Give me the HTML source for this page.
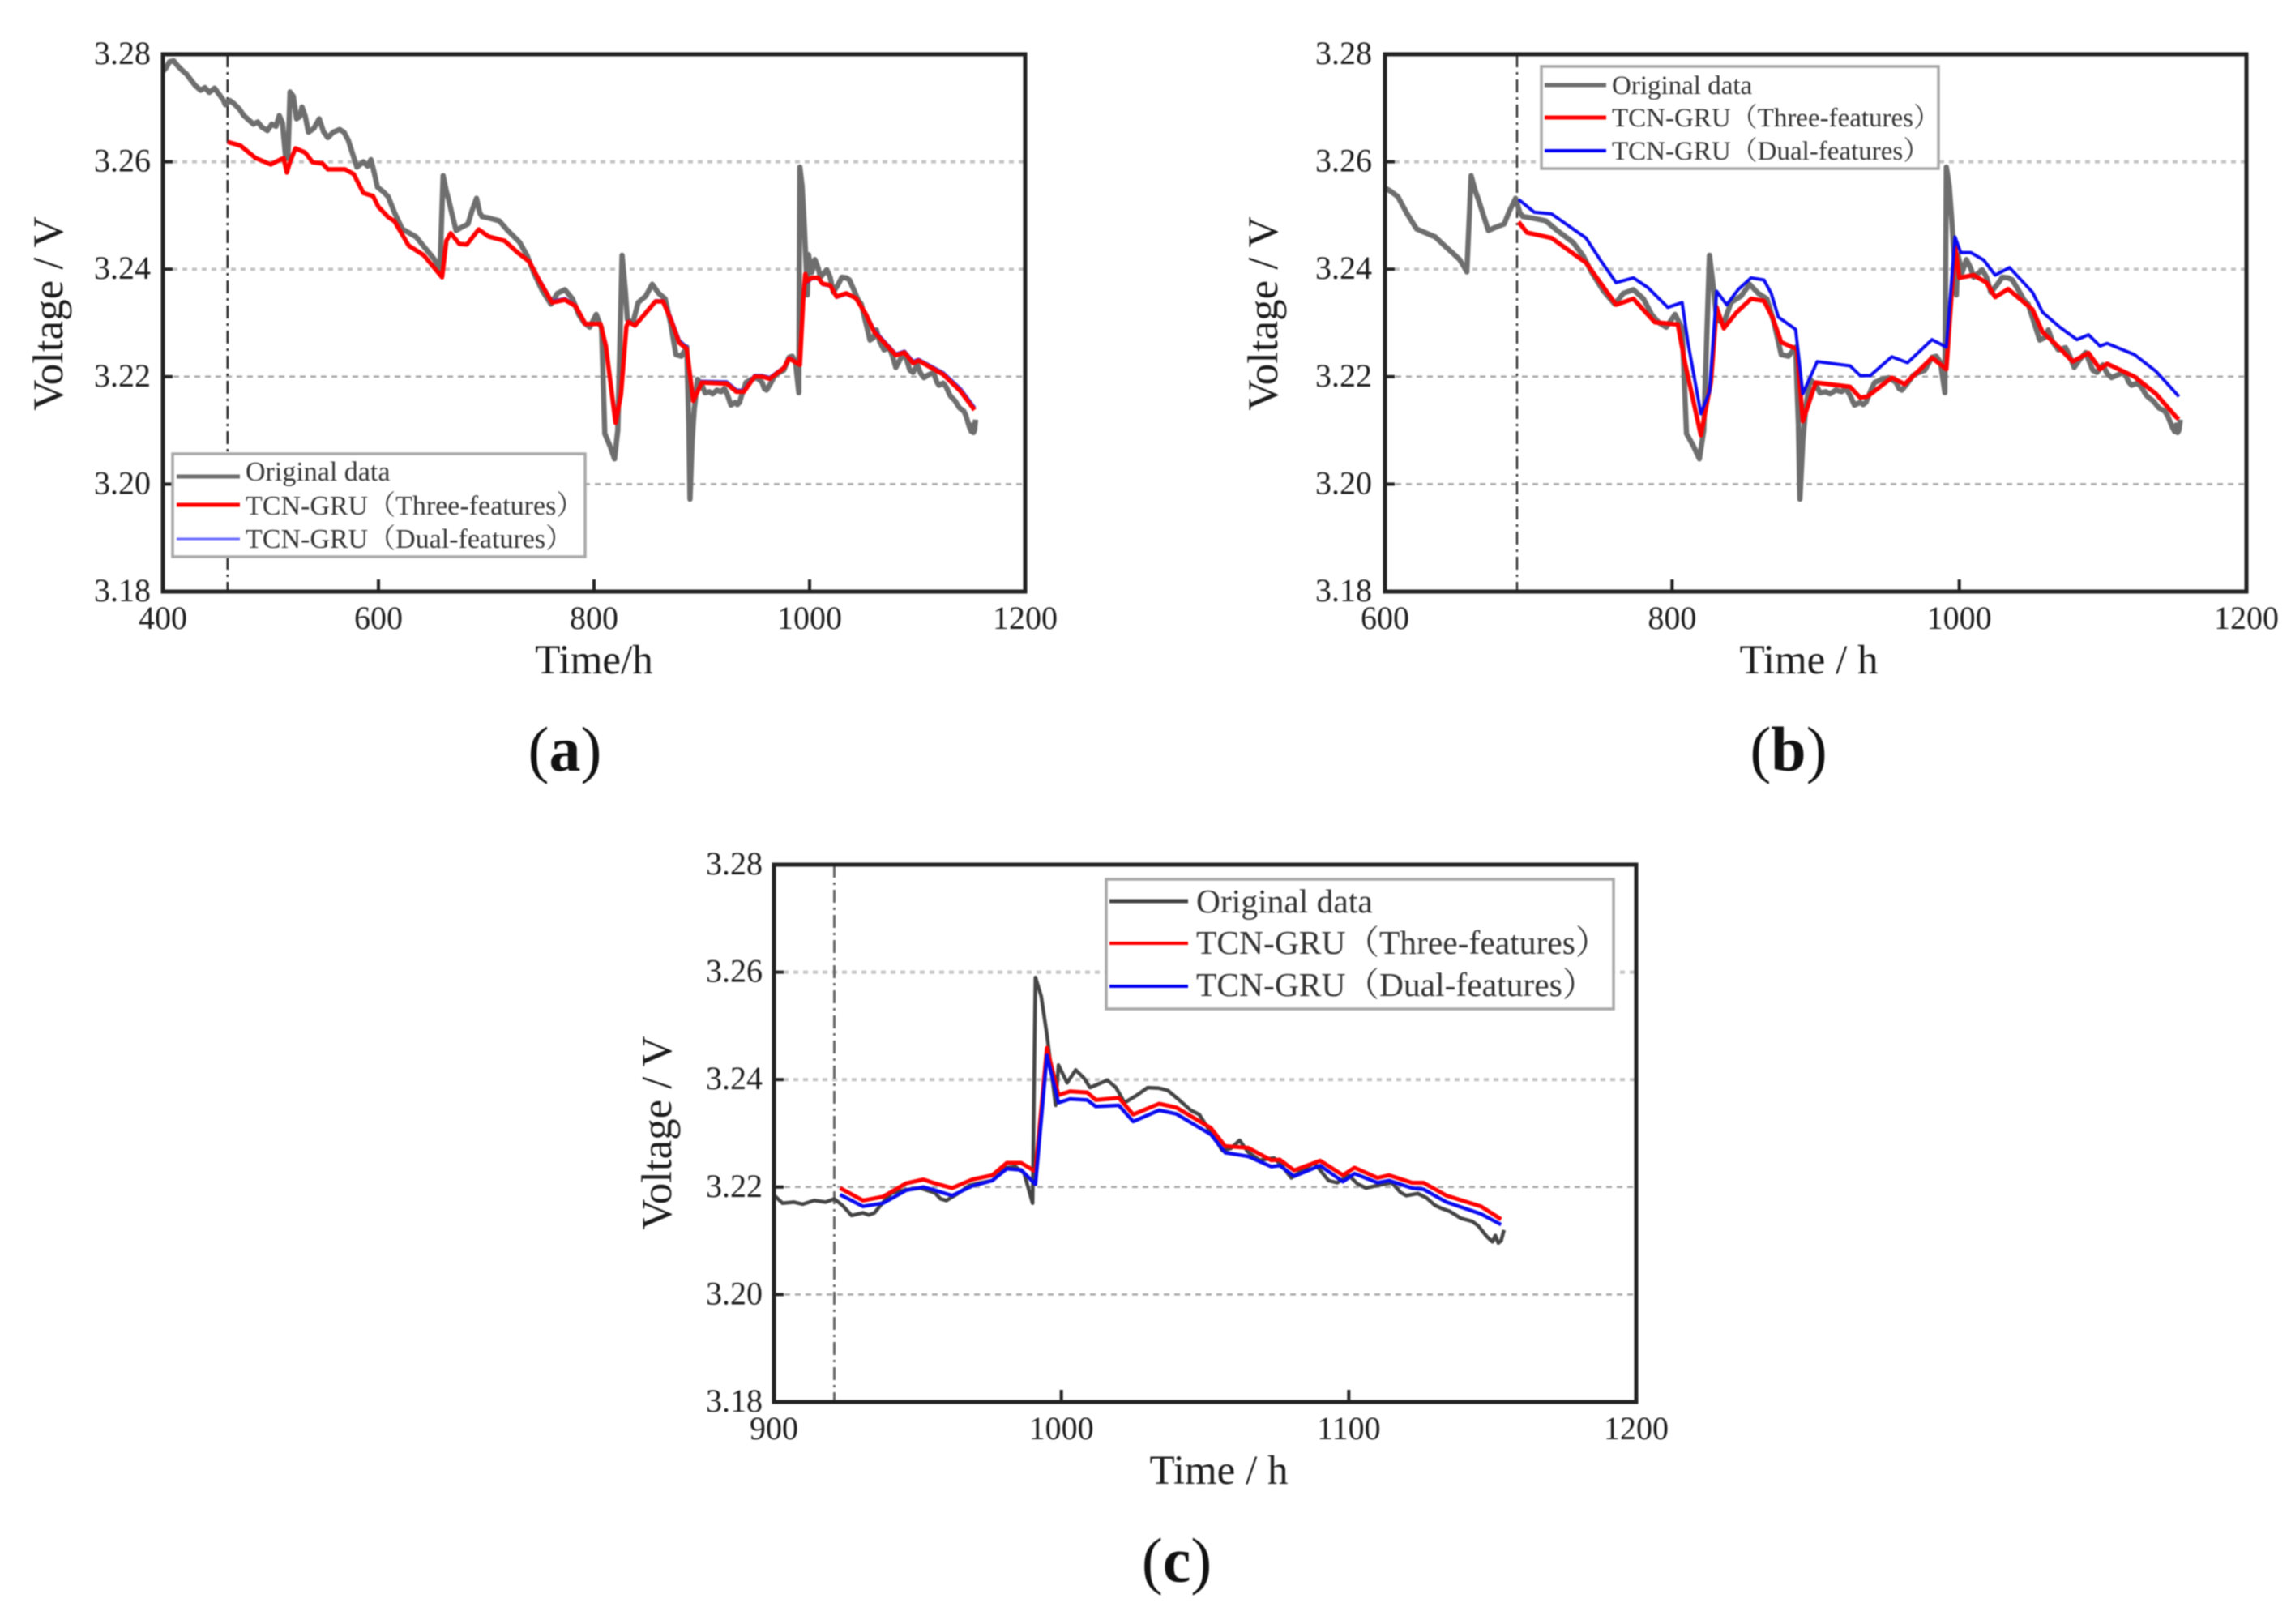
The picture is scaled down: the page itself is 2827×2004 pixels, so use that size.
<!DOCTYPE html>
<html lang="en">
<head>
<meta charset="utf-8">
<title>Voltage prediction comparison</title>
<style>
html,body{margin:0;padding:0;background:#fff;width:2827px;height:2004px;overflow:hidden}
svg{display:block;filter:blur(0.9px)}
text{font-family:"Liberation Serif","Noto Serif CJK SC",serif;fill:#1c1c1c}
.tick{font-size:40px}
.title{font-size:51px}
.ytitle{font-size:53px}
.cap{font-size:78px;fill:#111}
.leg{font-size:34px;fill:#333}
.legb{font-size:33px;fill:#333}
.legc{font-size:41.5px;fill:#333}
.box{fill:#fff;stroke:#a8a8a8;stroke-width:3.5}
.frame{fill:none;stroke:#222;stroke-width:5}
</style>
</head>
<body>
<svg id="figure" xmlns="http://www.w3.org/2000/svg" width="2827" height="2004" viewBox="0 0 2827 2004">
  <rect width="2827" height="2004" fill="#fff"/>
  <defs>
    <clipPath id="clip-a"><rect x="201" y="67" width="1064" height="663"/></clipPath>
    <clipPath id="clip-b"><rect x="1709" y="67" width="1063" height="663"/></clipPath>
    <clipPath id="clip-c"><rect x="955" y="1067" width="1064" height="663"/></clipPath>
  </defs>
  <g id="panel-a">
    <g id="plot-a"></g>
    <rect class="frame" x="201" y="67" width="1064" height="663"/>
    <text class="title" x="733" y="831" text-anchor="middle">Time/h</text>
    <text class="ytitle" transform="translate(77 387) rotate(-90)" text-anchor="middle">Voltage / V</text>
    <g>
      <rect class="box" x="213" y="560" width="509" height="127"/>
      <line x1="218" x2="296" y1="588" y2="588" stroke="#6e6e6e" stroke-width="5"/>
      <line x1="218" x2="296" y1="623" y2="623" stroke="#f00" stroke-width="5"/>
      <line x1="218" x2="296" y1="665" y2="665" stroke="#6a6aff" stroke-width="3"/>
      <text class="leg" x="303" y="593">Original data</text>
      <text class="leg" x="303" y="635">TCN-GRU（Three-features）</text>
      <text class="leg" x="303" y="676">TCN-GRU（Dual-features）</text>
    </g>
    <text class="cap" x="697" y="951" text-anchor="middle">(<tspan font-weight="bold">a</tspan>)</text>
  </g>
  <g id="panel-b">
    <g id="plot-b"></g>
    <rect class="frame" x="1709" y="67" width="1063" height="663"/>
    <text class="title" x="2232" y="831" text-anchor="middle">Time / h</text>
    <text class="ytitle" transform="translate(1576 387) rotate(-90)" text-anchor="middle">Voltage / V</text>
    <g>
      <rect class="box" x="1902" y="82" width="490" height="126"/>
      <line x1="1906" x2="1982" y1="105" y2="105" stroke="#6e6e6e" stroke-width="5"/>
      <line x1="1906" x2="1982" y1="145" y2="145" stroke="#f00" stroke-width="5"/>
      <line x1="1906" x2="1982" y1="186" y2="186" stroke="#0000f0" stroke-width="4"/>
      <text class="legb" x="1989" y="116">Original data</text>
      <text class="legb" x="1989" y="156">TCN-GRU（Three-features）</text>
      <text class="legb" x="1989" y="197">TCN-GRU（Dual-features）</text>
    </g>
    <text class="cap" x="2207" y="951" text-anchor="middle">(<tspan font-weight="bold">b</tspan>)</text>
  </g>
  <g id="panel-c">
    <g id="plot-c"></g>
    <rect class="frame" x="955" y="1067" width="1064" height="663"/>
    <text class="title" x="1504" y="1831" text-anchor="middle">Time / h</text>
    <text class="ytitle" transform="translate(828 1398) rotate(-90)" text-anchor="middle">Voltage / V</text>
    <g>
      <rect class="box" x="1365" y="1085" width="626" height="160"/>
      <line x1="1369" x2="1466" y1="1112" y2="1112" stroke="#444" stroke-width="5"/>
      <line x1="1369" x2="1466" y1="1164" y2="1164" stroke="#f00" stroke-width="4"/>
      <line x1="1369" x2="1466" y1="1217" y2="1217" stroke="#0000f0" stroke-width="4"/>
      <text class="legc" x="1476" y="1126">Original data</text>
      <text class="legc" x="1476" y="1177">TCN-GRU（Three-features）</text>
      <text class="legc" x="1476" y="1229">TCN-GRU（Dual-features）</text>
    </g>
    <text class="cap" x="1452" y="1952" text-anchor="middle">(<tspan font-weight="bold">c</tspan>)</text>
  </g>
</svg>
<script>
// ---- shared measured series ----
const originalTimes = [
400,403,406,410,414,418,422,426,430,435,
439,443,448,452,456,458,462,466,471,475,
479,484,488,492,497,501,505,508,511,514,
516,518,521,524,527,529,532,535,540,545,
549,553,558,564,568,572,576,580,586,590,
593,596,599,604,609,615,622,628,635,641,
648,652,655,657,660,663,665,668,672,677,
683,687,691,694,696,703,712,720,731,738,
744,752,760,766,773,780,786,791,796,802,
807,810,815,819,822,826,829,831,836,841,
848,854,860,866,871,876,881,886,888,889,
891,893,896,900,903,907,910,914,918,921,
924,927,931,933,935,938,941,946,951,956,
958,960,964,968,972,976,981,984,987,990,
991,993,995,998,999,1002,1005,1008,1010,1013,
1016,1019,1022,1026,1030,1034,1037,1041,1045,1048,
1051,1054,1056,1059,1062,1065,1069,1074,1077,1080,
1084,1088,1091,1093,1096,1100,1103,1106,1110,1115,
1118,1120,1124,1127,1130,1132,1135,1139,1143,1145,
1148,1150,1151,1152,1153,1154];
const originalVoltages = [
3.2768,3.2775,3.2786,3.2788,3.2778,3.2770,3.2763,3.2752,3.2742,3.2733,
3.2738,3.2729,3.2737,3.2726,3.2715,3.2706,3.2714,3.2708,3.2698,3.2686,
3.2679,3.2670,3.2674,3.2664,3.2658,3.2670,3.2666,3.2686,3.2672,3.2605,
3.2610,3.2730,3.2722,3.2680,3.2684,3.2702,3.2685,3.2655,3.2662,3.2680,
3.2656,3.2645,3.2655,3.2660,3.2655,3.2640,3.2615,3.2590,3.2600,3.2592,
3.2604,3.2580,3.2553,3.2545,3.2535,3.2505,3.2475,3.2468,3.2460,3.2445,
3.2428,3.2418,3.2405,3.2395,3.2574,3.2545,3.2530,3.2505,3.2472,3.2478,
3.2484,3.2510,3.2532,3.2505,3.2498,3.2495,3.2490,3.2472,3.2450,3.2425,
3.2394,3.2360,3.2335,3.2355,3.2362,3.2345,3.2315,3.2300,3.2292,3.2316,
3.2290,3.2094,3.2070,3.2047,3.2100,3.2426,3.2360,3.2306,3.2300,3.2338,
3.2350,3.2372,3.2355,3.2345,3.2300,3.2241,3.2238,3.2255,3.2110,3.1972,
3.2080,3.2140,3.2195,3.2185,3.2170,3.2172,3.2168,3.2175,3.2172,3.2178,
3.2165,3.2147,3.2152,3.2148,3.2152,3.2172,3.2189,3.2195,3.2198,3.2189,
3.2178,3.2175,3.2188,3.2203,3.2208,3.2212,3.2236,3.2238,3.2226,3.2170,
3.2590,3.2555,3.2483,3.2352,3.2427,3.2394,3.2418,3.2402,3.2385,3.2392,
3.2399,3.2385,3.2357,3.2370,3.2385,3.2384,3.2380,3.2362,3.2343,3.2335,
3.2310,3.2285,3.2268,3.2272,3.2287,3.2265,3.2250,3.2254,3.2238,3.2217,
3.2232,3.2245,3.2225,3.2212,3.2208,3.2222,3.2206,3.2198,3.2203,3.2208,
3.2190,3.2184,3.2188,3.2180,3.2166,3.2161,3.2155,3.2142,3.2136,3.2128,
3.2108,3.2098,3.2110,3.2096,3.2100,3.2120];

// ---- panel (a) predictions ----
const threeTimesA = [
460,472,486,500,512,515,518,523,532,539,
548,553,569,577,586,595,600,609,615,628,
642,659,663,667,675,682,693,702,717,729,
740,750,761,773,783,792,806,811,820,825,
830,832,838,857,864,871,879,886,892,900,
923,932,939,949,956,963,976,981,991,994,
996,998,1002,1008,1012,1019,1025,1034,1043,1052,
1060,1080,1088,1096,1101,1124,1140,1153];
const threeVoltsA = [
3.2637,3.2630,3.2607,3.2595,3.2607,3.2580,3.2600,3.2625,3.2617,3.2599,
3.2597,3.2586,3.2586,3.2577,3.2542,3.2536,3.2516,3.2497,3.2489,3.2444,
3.2426,3.2385,3.2453,3.2467,3.2447,3.2446,3.2474,3.2461,3.2453,3.2431,
3.2414,3.2376,3.2338,3.2343,3.2331,3.2298,3.2298,3.2257,3.2114,3.2167,
3.2293,3.2302,3.2295,3.2340,3.2340,3.2308,3.2263,3.2252,3.2155,3.2189,
3.2187,3.2172,3.2172,3.2200,3.2200,3.2196,3.2216,3.2234,3.2222,3.2340,
3.2391,3.2378,3.2384,3.2384,3.2373,3.2370,3.2349,3.2355,3.2346,3.2317,
3.2283,3.2240,3.2245,3.2225,3.2230,3.2204,3.2173,3.2138];
const dualTimesA = [
460,472,486,500,512,515,518,523,532,539,
548,553,569,577,586,595,600,609,615,628,
642,659,663,667,675,682,693,702,717,729,
740,750,761,773,783,792,806,811,820,825,
830,832,838,857,864,871,879,886,892,900,
923,932,939,949,956,963,976,981,991,994,
996,998,1002,1008,1012,1019,1025,1034,1043,1052,
1060,1080,1088,1096,1101,1124,1140,1153];
const dualVoltsA = [
3.2637,3.2630,3.2607,3.2595,3.2607,3.2580,3.2600,3.2625,3.2617,3.2599,
3.2597,3.2586,3.2586,3.2577,3.2542,3.2536,3.2516,3.2497,3.2489,3.2444,
3.2426,3.2385,3.2453,3.2467,3.2447,3.2446,3.2474,3.2461,3.2453,3.2431,
3.2415,3.2378,3.2340,3.2345,3.2332,3.2299,3.2299,3.2260,3.2118,3.2170,
3.2294,3.2303,3.2296,3.2341,3.2341,3.2311,3.2267,3.2255,3.2157,3.2191,
3.2190,3.2175,3.2174,3.2202,3.2202,3.2198,3.2217,3.2235,3.2223,3.2338,
3.2389,3.2376,3.2383,3.2383,3.2372,3.2369,3.2348,3.2354,3.2346,3.2318,
3.2286,3.2242,3.2247,3.2228,3.2232,3.2207,3.2177,3.2142];

// ---- panel (b) predictions ----
const threeTimesB = [
693,699,716,728,740,750,761,773,788,804,
809,820,827,831,836,845,855,864,870,876,
887,891,900,924,931,936,953,962,981,991,
997,1000,1010,1019,1025,1034,1051,1058,1068,1079,
1090,1098,1103,1122,1137,1151,1153];
const threeVoltsB = [
3.2488,3.2468,3.2458,3.2435,3.2412,3.2375,3.2334,3.2345,3.2301,3.2297,
3.2225,3.2091,3.2190,3.2329,3.2290,3.2320,3.2345,3.2341,3.2310,3.2264,
3.2251,3.2117,3.2189,3.2181,3.2161,3.2163,3.2198,3.2186,3.2235,3.2214,
3.2444,3.2384,3.2389,3.2375,3.2348,3.2363,3.2325,3.2283,3.2258,3.2228,
3.2244,3.2214,3.2224,3.2200,3.2168,3.2125,3.2121];
const dualTimesB = [
693,704,716,740,750,761,773,783,797,807,
811,820,826,831,838,846,855,864,869,874,
886,891,901,924,931,938,953,964,981,991,
997,1001,1008,1017,1025,1035,1051,1058,1070,1082,
1090,1098,1103,1122,1137,1153];
const dualVoltsB = [
3.2530,3.2506,3.2503,3.2458,3.2417,3.2375,3.2384,3.2366,3.2329,3.2338,
3.2264,3.2131,3.2172,3.2359,3.2334,3.2362,3.2384,3.2380,3.2355,3.2311,
3.2288,3.2168,3.2228,3.2220,3.2202,3.2202,3.2237,3.2226,3.2269,3.2255,
3.2460,3.2431,3.2431,3.2417,3.2389,3.2403,3.2357,3.2320,3.2292,3.2269,
3.2278,3.2257,3.2262,3.2241,3.2210,3.2163];

// ---- panel (c) predictions ----
const threeTimesC = [
923,931,938,946,952,956,962,969,976,981,
986,991,995,999,1003,1009,1012,1020,1025,1034,
1040,1052,1057,1065,1073,1076,1081,1090,1098,1102,
1110,1114,1122,1126,1134,1146,1153];
const threeVoltsC = [
3.2198,3.2175,3.2182,3.2207,3.2214,3.2207,3.2198,3.2214,3.2222,3.2245,
3.2245,3.2229,3.2459,3.2371,3.2378,3.2376,3.2362,3.2366,3.2335,3.2355,
3.2348,3.2310,3.2276,3.2273,3.2250,3.2251,3.2231,3.2249,3.2222,3.2236,
3.2217,3.2222,3.2208,3.2208,3.2184,3.2164,3.2140];
const dualTimesC = [
923,931,938,946,952,956,962,969,976,981,
986,991,995,999,1003,1009,1012,1020,1025,1034,
1040,1052,1057,1065,1073,1076,1081,1090,1098,1102,
1110,1114,1122,1126,1134,1146,1153];
const dualVoltsC = [
3.2186,3.2164,3.2170,3.2194,3.2200,3.2194,3.2184,3.2202,3.2212,3.2234,
3.2232,3.2205,3.2445,3.2357,3.2364,3.2362,3.2350,3.2352,3.2322,3.2343,
3.2336,3.2298,3.2264,3.2257,3.2238,3.2240,3.2220,3.2240,3.2210,3.2225,
3.2208,3.2212,3.2198,3.2196,3.2172,3.2150,3.2130];

// ---- axis tick labels ----
const voltageTicks = [3.18, 3.20, 3.22, 3.24, 3.26, 3.28];
const gridVoltages = [3.20, 3.22, 3.24, 3.26];
const timeTicksA = [400, 600, 800, 1000, 1200];
const timeTicksB = [600, 800, 1000, 1200];
const timeTicksC = [900, 1000, 1100, 1200];
const splitTimeA = 460;
const splitTimeB = 692;
const splitTimeC = 921;

const SVGNS = 'http://www.w3.org/2000/svg';

function drawPanel(cfg) {
  const parent = document.getElementById('plot-' + cfg.id);
  const sx = t => cfg.left + (t - cfg.xMin) / (cfg.xMax - cfg.xMin) * (cfg.right - cfg.left);
  const sy = v => cfg.bottom - (v - 3.18) / 0.10 * (cfg.bottom - cfg.top);

  gridVoltages.forEach(v => {
    const g = document.createElementNS(SVGNS, 'line');
    
    
    g.setAttribute('x1', cfg.left);
    g.setAttribute('x2', cfg.right);
    g.setAttribute('y1', sy(v));
    g.setAttribute('y2', sy(v));
    g.setAttribute('stroke', v > 3.23 ? '#c4c4c4' : '#a6a6a6');
    g.setAttribute('stroke-width', v > 3.23 ? 4 : 2.5);
    g.setAttribute('stroke-dasharray', v > 3.23 ? '6 6' : '7 6');
    parent.appendChild(g);
  });

  const split = document.createElementNS(SVGNS, 'line');
  
  
  split.setAttribute('x1', sx(cfg.split));
  split.setAttribute('x2', sx(cfg.split));
  split.setAttribute('y1', cfg.top);
  split.setAttribute('y2', cfg.bottom);
  split.setAttribute('stroke', cfg.splitColor);
  split.setAttribute('stroke-width', cfg.splitWidth);
  split.setAttribute('stroke-dasharray', '16 6 3 6');
  parent.appendChild(split);

  cfg.series.forEach(s => {
    const pts = s.times.map((t, i) => sx(t).toFixed(1) + ',' + sy(s.volts[i]).toFixed(1)).join(' ');
    const line = document.createElementNS(SVGNS, 'polyline');
    
    
    line.setAttribute('points', pts);
    line.setAttribute('fill', 'none');
    line.setAttribute('stroke', s.color);
    line.setAttribute('stroke-width', s.width);
    line.setAttribute('stroke-linejoin', 'round');
    line.setAttribute('clip-path', 'url(#clip-' + cfg.id + ')');
    parent.appendChild(line);
  });

  cfg.xTicks.forEach(t => {
    const tick = document.createElementNS(SVGNS, 'line');
    
    
    tick.setAttribute('x1', sx(t));
    tick.setAttribute('x2', sx(t));
    tick.setAttribute('y1', cfg.bottom);
    tick.setAttribute('y2', cfg.bottom - 15);
    tick.setAttribute('stroke', '#222');
    tick.setAttribute('stroke-width', 4);
    parent.appendChild(tick);
    const label = document.createElementNS(SVGNS, 'text');
    
    
    label.setAttribute('class', 'tick');
    label.setAttribute('x', sx(t));
    label.setAttribute('y', cfg.bottom + 46);
    label.setAttribute('text-anchor', 'middle');
    label.textContent = String(t);
    parent.appendChild(label);
  });

  voltageTicks.forEach(v => {
    const tick = document.createElementNS(SVGNS, 'line');
    
    
    tick.setAttribute('x1', cfg.left);
    tick.setAttribute('x2', cfg.left + 12);
    tick.setAttribute('y1', sy(v));
    tick.setAttribute('y2', sy(v));
    tick.setAttribute('stroke', '#222');
    tick.setAttribute('stroke-width', 4);
    parent.appendChild(tick);
    const label = document.createElementNS(SVGNS, 'text');
    
    
    label.setAttribute('class', 'tick');
    label.setAttribute('x', cfg.labelRight);
    label.setAttribute('y', sy(v) + 12);
    label.setAttribute('text-anchor', 'end');
    label.textContent = v.toFixed(2);
    parent.appendChild(label);
  });
}

drawPanel({
  id: 'a', left: 201, right: 1265, top: 67, bottom: 730, xMin: 400, xMax: 1200,
  labelRight: 186, xTicks: timeTicksA, split: splitTimeA, splitColor: '#222', splitWidth: 2.5,
  series: [
    { name: 'series-original-a', times: originalTimes, volts: originalVoltages, color: '#6e6e6e', width: 6.5 },
    { name: 'series-dual-features-a', times: dualTimesA, volts: dualVoltsA, color: '#3a3ae8', width: 4.5 },
    { name: 'series-three-features-a', times: threeTimesA, volts: threeVoltsA, color: '#f00', width: 5.5 }
  ]
});
drawPanel({
  id: 'b', left: 1709, right: 2772, top: 67, bottom: 730, xMin: 600, xMax: 1200,
  labelRight: 1693, xTicks: timeTicksB, split: splitTimeB, splitColor: '#333', splitWidth: 2.5,
  series: [
    { name: 'series-original-b', times: originalTimes, volts: originalVoltages, color: '#6e6e6e', width: 6.5 },
    { name: 'series-three-features-b', times: threeTimesB, volts: threeVoltsB, color: '#f00', width: 5.5 },
    { name: 'series-dual-features-b', times: dualTimesB, volts: dualVoltsB, color: '#0a0af0', width: 4 }
  ]
});
drawPanel({
  id: 'c', left: 955, right: 2019, top: 1067, bottom: 1730, xMin: 900, xMax: 1200,
  labelRight: 941, xTicks: timeTicksC, split: splitTimeC, splitColor: '#666', splitWidth: 3,
  series: [
    { name: 'series-original-c', times: originalTimes, volts: originalVoltages, color: '#444', width: 4.5 },
    { name: 'series-three-features-c', times: threeTimesC, volts: threeVoltsC, color: '#f00', width: 5 },
    { name: 'series-dual-features-c', times: dualTimesC, volts: dualVoltsC, color: '#0a0af0', width: 4.5 }
  ]
});
</script>
</body>
</html>
